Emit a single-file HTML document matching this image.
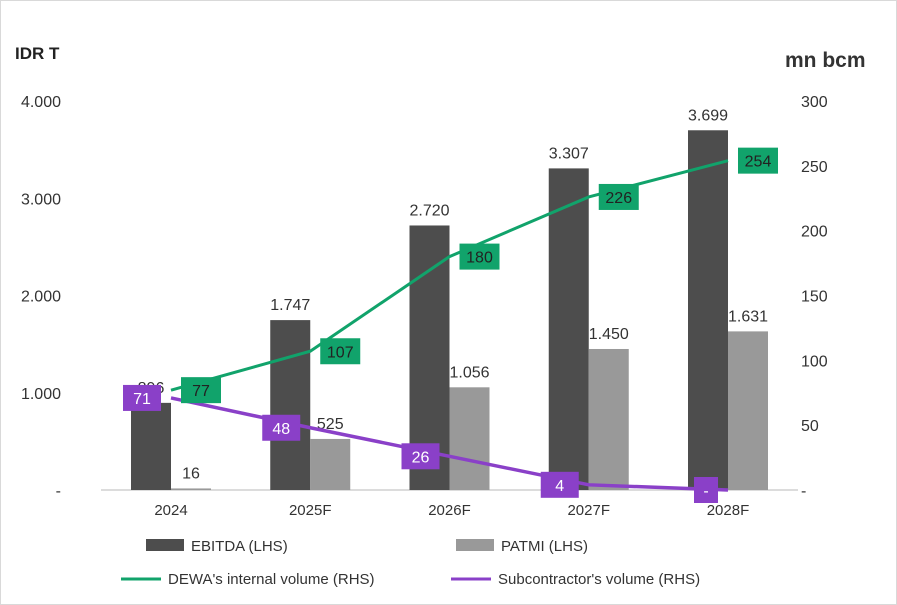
<!DOCTYPE html>
<html><head><meta charset="utf-8"><style>
body{margin:0;background:#fff;font-family:"Liberation Sans",Arial,sans-serif}
#wrap{position:relative;width:895px;height:603px;border:1px solid #d9d9d9;overflow:hidden}
svg text{font-family:"Liberation Sans",Arial,sans-serif}
</style></head><body>
<div id="wrap">
<svg id="chart" width="897" height="605">
<text x="14" y="58" font-size="17" font-weight="bold" fill="#222">IDR T</text>
<text x="784" y="66" font-size="21" font-weight="bold" fill="#333">mn bcm</text>
<line x1="100" y1="489" x2="797" y2="489" stroke="#d0d0d0" stroke-width="1.5"/>
<g id="g"></g>
<g>
<rect x="145" y="538" width="38" height="12" fill="#4d4d4d"/>
<text x="190" y="550" font-size="15" fill="#333">EBITDA (LHS)</text>
<rect x="455" y="538" width="38" height="12" fill="#999"/>
<text x="500" y="550" font-size="15" fill="#333">PATMI (LHS)</text>
<line x1="120" y1="578" x2="160" y2="578" stroke="#11a36b" stroke-width="3"/>
<text x="167" y="583" font-size="15" fill="#333">DEWA's internal volume (RHS)</text>
<line x1="450" y1="578" x2="490" y2="578" stroke="#8a40c8" stroke-width="3"/>
<text x="497" y="583" font-size="15" fill="#333">Subcontractor's volume (RHS)</text>
</g>
</svg>
</div>
<script>
const categories=["2024","2025F","2026F","2027F","2028F"];
const ebitda=[896,1747,2720,3307,3699];
const patmi=[16,525,1056,1450,1631];
const dewa=[77,107,180,226,254];
const subcon=[71,48,26,4,0];
const leftTicks=[0,1000,2000,3000,4000];
const leftTickLabels=["-","1.000","2.000","3.000","4.000"];
const rightTicks=[0,50,100,150,200,250,300];
const fmt=v=>v>=1000?Math.floor(v/1000)+"."+String(v%1000).padStart(3,"0"):String(v);
const NS="http://www.w3.org/2000/svg";
const g=document.getElementById("g");
const Y0=489,YT=100;
const yL=v=>Y0-v/4000*(Y0-YT);
const yR=v=>Y0-v/300*(Y0-YT);
const xC=i=>170+i*139.25;
function mk(tag,attrs,parent){const e=document.createElementNS(NS,tag);for(const k in attrs)e.setAttribute(k,attrs[k]);(parent||g).appendChild(e);return e;}
leftTicks.forEach((t,i)=>{const e=mk("text",{x:60,y:yL(t)+6,"font-size":16,fill:"#333","text-anchor":"end"});e.textContent=leftTickLabels[i];

});
rightTicks.forEach(t=>{const e=mk("text",{x:800,y:yR(t)+6,"font-size":16,fill:"#333"});e.textContent=t===0?"-":String(t);

});
categories.forEach((c,i)=>{const x=xC(i);
const b1=mk("rect",{x:x-40,y:yL(ebitda[i]),width:40,height:Y0-yL(ebitda[i]),fill:"#4d4d4d"});


const b2=mk("rect",{x:x,y:yL(patmi[i]),width:40,height:Math.max(1.5,Y0-yL(patmi[i])),fill:"#999"});


const l1=mk("text",{x:x-20,y:yL(ebitda[i])-10,"font-size":16,fill:"#333","text-anchor":"middle"});l1.textContent=fmt(ebitda[i]);


const l2=mk("text",{x:x+20,y:yL(patmi[i])-10,"font-size":16,fill:"#333","text-anchor":"middle"});l2.textContent=fmt(patmi[i]);


const xl=mk("text",{x:x,y:514,"font-size":15,fill:"#333","text-anchor":"middle"});xl.textContent=c;


});
const p1=mk("polyline",{points:dewa.map((v,i)=>xC(i)+","+yR(v)).join(" "),fill:"none",stroke:"#11a36b","stroke-width":3});


const p2=mk("polyline",{points:subcon.map((v,i)=>xC(i)+","+yR(v)).join(" "),fill:"none",stroke:"#8a40c8","stroke-width":3.5});


dewa.forEach((v,i)=>{const x=xC(i)+10,y=yR(v);
const r=mk("rect",{x:x,y:y-13,width:40,height:26,fill:"#11a36b"});


const t=mk("text",{x:x+20,y:y+6,"font-size":16,fill:"#222","text-anchor":"middle"});t.textContent=String(v);

});
subcon.forEach((v,i)=>{const x=xC(i)-10,y=yR(v);
const w=v===0?24:38;
const r=mk("rect",{x:x-w,y:y-13,width:w,height:26,fill:"#8a40c8"});


const t=mk("text",{x:x-w/2,y:y+6,"font-size":16,fill:"#fff","text-anchor":"middle"});t.textContent=v===0?"-":String(v);

});
</script>
</body></html>
